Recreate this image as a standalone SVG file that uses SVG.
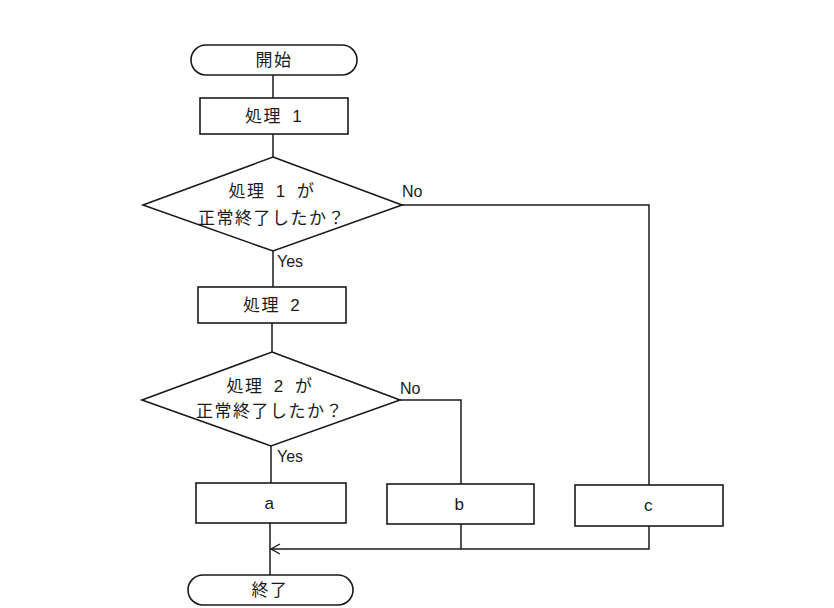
<svg xmlns="http://www.w3.org/2000/svg" width="834" height="608" viewBox="0 0 834 608">
<style>
.s{fill:#fff;stroke:#1a1a1a;stroke-width:1.6}
.c{fill:none;stroke:#1a1a1a;stroke-width:1.5}
.t{font-family:"Liberation Sans","Noto Sans CJK JP",sans-serif;font-size:17px;fill:#1a1a1a;text-anchor:middle;letter-spacing:1.5px;word-spacing:4px}
.j{font-family:"Noto Sans CJK JP",sans-serif;font-size:17px;fill:#1a1a1a;text-anchor:middle;letter-spacing:1.5px}
.l{font-family:"Liberation Sans",sans-serif;font-size:16px;fill:#1a1a1a}
</style>
<defs>
<marker id="arr" markerWidth="12" markerHeight="12" refX="10" refY="6" orient="auto" markerUnits="userSpaceOnUse">
<path d="M1,1 L10,6 L1,11" fill="none" stroke="#1a1a1a" stroke-width="1.4"/>
</marker>
</defs>
<rect width="834" height="608" fill="#fff"/>
<g id="connectors">
<line class="c" x1="273" y1="75" x2="273" y2="98"/>
<line class="c" x1="273" y1="134" x2="273" y2="157"/>
<line class="c" x1="273" y1="251" x2="273" y2="287"/>
<line class="c" x1="272" y1="323" x2="272" y2="352"/>
<line class="c" x1="271" y1="446" x2="271" y2="483"/>
<line class="c" x1="270" y1="523" x2="270" y2="575"/>
<polyline class="c" points="402,205 649,205 649,485"/>
<polyline class="c" points="400,400 461,400 461,484"/>
<line class="c" x1="461" y1="524" x2="461" y2="549"/>
<polyline class="c" points="649,526 649,549 271,549" marker-end="url(#arr)"/>
<text class="l" x="402" y="197">No</text>
<text class="l" x="277" y="267">Yes</text>
<text class="l" x="400" y="394">No</text>
<text class="l" x="277" y="462">Yes</text>
</g>
<g id="start">
<rect class="s" x="191" y="45" width="166" height="30" rx="15"/>
<text class="j" x="274" y="66">開始</text>
</g>
<g id="proc1">
<rect class="s" x="200" y="98" width="148" height="36"/>
<text class="t" x="274" y="122">処理 1</text>
</g>
<g id="dec1">
<polygon class="s" points="273,157 402,205 273,251 143,205"/>
<text class="t" x="272" y="197">処理 1 が</text>
<text class="j" x="272" y="224">正常終了したか？</text>
</g>
<g id="proc2">
<rect class="s" x="198" y="287" width="148" height="36"/>
<text class="t" x="272" y="311">処理 2</text>
</g>
<g id="dec2">
<polygon class="s" points="272,352 400,400 271,446 142,400"/>
<text class="t" x="270" y="392">処理 2 が</text>
<text class="j" x="270" y="417">正常終了したか？</text>
</g>
<g id="a">
<rect class="s" x="196" y="483" width="150" height="40"/>
<text class="t" x="270" y="509">a</text>
</g>
<g id="b">
<rect class="s" x="387" y="484" width="147" height="40"/>
<text class="t" x="460" y="510">b</text>
</g>
<g id="c">
<rect class="s" x="575" y="485" width="148" height="41"/>
<text class="t" x="649" y="511">c</text>
</g>
<g id="end">
<rect class="s" x="188" y="575" width="165" height="30" rx="15"/>
<text class="j" x="270" y="596">終了</text>
</g>
</svg>
